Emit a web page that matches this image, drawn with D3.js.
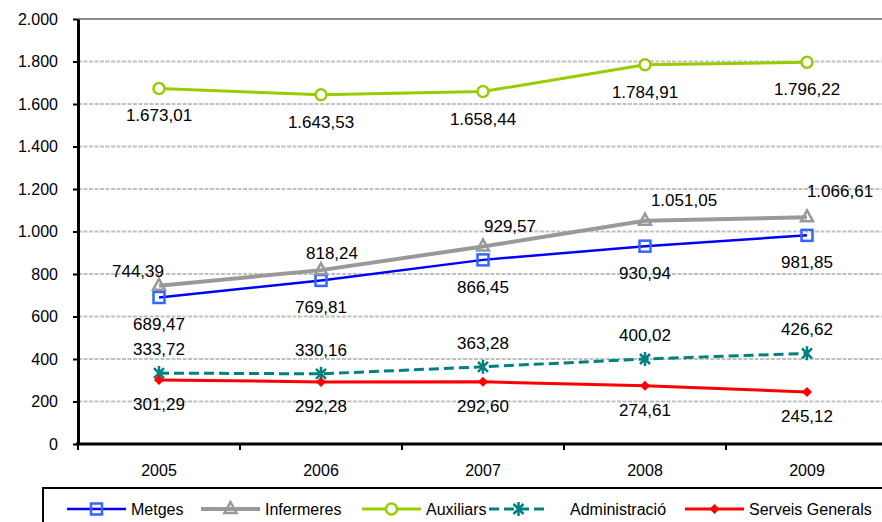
<!DOCTYPE html>
<html>
<head>
<meta charset="utf-8">
<script src="https://cdn.jsdelivr.net/npm/d3@7"></script>
<style>
  body { margin: 0; background: #fff; }
  svg { display: block; font-family: "Liberation Sans", Arial, sans-serif; }
</style>
</head>
<body>
<div class="container"></div>
<script>
// data
var years = ["2005", "2006", "2007", "2008", "2009"];
var metges = [689.47, 769.81, 866.45, 930.94, 981.85];
var infermeres = [744.39, 818.24, 929.57, 1051.05, 1066.61];
var auxiliars = [1673.01, 1643.53, 1658.44, 1784.91, 1796.22];
var administracio = [333.72, 330.16, 363.28, 400.02, 426.62];
var serveisGenerals = [301.29, 292.28, 292.60, 274.61, 245.12];
var yTicks = [0, 200, 400, 600, 800, 1000, 1200, 1400, 1600, 1800, 2000];

var width = 882, height = 522;

var locale = d3.formatLocale({decimal: ",", thousands: ".", grouping: [3], currency: ["", "€"]});
var fmtVal = locale.format(",.2f");
var fmtTick = locale.format(",d");

var svg = d3.select(".container").append("svg")
    .attr("width", width)
    .attr("height", height);

var x = d3.scaleBand().domain(years).range([78, 888]);
var y = d3.scaleLinear().domain([0, 2000]).range([444, 19]);
function cx(d) { return x(d) + x.bandwidth() / 2; }

// gridlines
svg.append("g").selectAll("line")
    .data(yTicks.filter(function(t) { return t > 0; }))
    .enter().append("line")
    .attr("x1", 78).attr("x2", width)
    .attr("y1", function(d) { return y(d); })
    .attr("y2", function(d) { return y(d); })
    .attr("stroke", function(d) { return d == 2000 ? "#8c8c8c" : "#c0c0c0"; })
    .attr("stroke-width", 2)
    .attr("stroke-dasharray", function(d) { return d == 2000 ? null : "4,1.5"; });

// y axis
var yAxis = svg.append("g")
    .attr("transform", "translate(78,0)")
    .call(d3.axisLeft(y).tickValues(yTicks).tickFormat(fmtTick).tickSize(5).tickSizeOuter(0));
yAxis.select(".domain").attr("stroke", "#000").attr("stroke-width", 3);
yAxis.selectAll(".tick line").attr("stroke", "#000").attr("stroke-width", 2);
yAxis.selectAll(".tick text").attr("font-size", 16).attr("fill", "#000")
    .attr("font-family", "Liberation Sans, Arial, sans-serif").attr("x", -20);

// x axis
var xAxis = svg.append("g")
    .attr("transform", "translate(0,444)")
    .call(d3.axisBottom(x).tickSize(0).tickSizeOuter(0));
xAxis.select(".domain").remove();
xAxis.selectAll(".tick text").attr("font-size", 16).attr("fill", "#000")
    .attr("font-family", "Liberation Sans, Arial, sans-serif").attr("dy", 0).attr("y", 32);
svg.append("line")
    .attr("x1", 76).attr("x2", width)
    .attr("y1", 444).attr("y2", 444)
    .attr("stroke", "#000").attr("stroke-width", 3);
svg.append("g").selectAll("line")
    .data(years)
    .enter().append("line")
    .attr("x1", function(d) { return x(d); })
    .attr("x2", function(d) { return x(d); })
    .attr("y1", 444).attr("y2", 450)
    .attr("stroke", "#000").attr("stroke-width", 2);

// series definitions
var series = [
    {name: "Metges", values: metges, color: "#0000ff", marker: "#3366ff", width: 2.5, dash: null, sym: "square", labelDy: 27},
    {name: "Infermeres", values: infermeres, color: "#999999", marker: "#999999", width: 4, dash: null, sym: "triangle", labelDy: -18},
    {name: "Auxiliars", values: auxiliars, color: "#99cc00", marker: "#99cc00", width: 3, dash: null, sym: "circle", labelDy: 27},
    {name: "Administració", values: administracio, color: "#008080", marker: "#008080", width: 3, dash: "10,5", sym: "star", labelDy: -24},
    {name: "Serveis Generals", values: serveisGenerals, color: "#ff0000", marker: "#ff0000", width: 3, dash: null, sym: "diamond", labelDy: 24}
];
// hand-moved labels of Infermeres (dx, dy)
var infermeresLabelShift = [[-21, 3], [11, 1], [27, -2], [39, -3], [33, -8]];

function drawMarker(g, s) {
    if (s.sym == "square") {
        g.append("rect").attr("x", -5.5).attr("y", -5.5).attr("width", 11).attr("height", 11)
            .attr("fill", "none").attr("stroke", s.marker).attr("stroke-width", 2.5);
    } else if (s.sym == "triangle") {
        g.append("path").attr("d", "M0,-7L6,4L-6,4Z")
            .attr("fill", "none").attr("stroke", s.marker).attr("stroke-width", 2.5);
    } else if (s.sym == "circle") {
        g.append("circle").attr("r", 5.5)
            .attr("fill", "#fff").attr("stroke", s.marker).attr("stroke-width", 2.5);
    } else if (s.sym == "star") {
        g.append("path").attr("d", "M-5,-5L5,5M-5,5L5,-5M0,-7L0,7")
            .attr("fill", "none").attr("stroke", s.marker).attr("stroke-width", 2.5);
    } else if (s.sym == "diamond") {
        g.append("path").attr("d", "M0,-5L5,0L0,5L-5,0Z")
            .attr("fill", s.marker).attr("stroke", "none");
    }
}

var line = d3.line()
    .x(function(d, i) { return cx(years[i]); })
    .y(function(d) { return y(d); });

series.forEach(function(s) {
    svg.append("path")
        .datum(s.values)
        .attr("d", line)
        .attr("fill", "none")
        .attr("stroke", s.color)
        .attr("stroke-width", s.width)
        .attr("stroke-dasharray", s.dash);
});

series.forEach(function(s) {
    s.values.forEach(function(v, i) {
        var g = svg.append("g").attr("transform", "translate(" + cx(years[i]) + "," + y(v) + ")");
        drawMarker(g, s);
    });
});

// data labels
series.forEach(function(s) {
    svg.append("g").selectAll("text")
        .data(s.values)
        .enter().append("text")
        .attr("x", function(d, i) {
            var dx = s.name == "Infermeres" ? infermeresLabelShift[i][0] : 0;
            return cx(years[i]) + dx;
        })
        .attr("y", function(d, i) {
            var dy = s.name == "Infermeres" ? infermeresLabelShift[i][1] : 0;
            return y(d) + s.labelDy + dy + 6;
        })
        .attr("text-anchor", "middle")
        .attr("font-size", 17)
        .attr("fill", "#000")
        .text(function(d) { return fmtVal(d); });
});

// legend
var legendX = [67, 201, 362, 489, 685];
svg.append("rect")
    .attr("x", 43).attr("y", 488)
    .attr("width", 860).attr("height", 50)
    .attr("fill", "#fff").attr("stroke", "#000").attr("stroke-width", 2);

series.forEach(function(s, i) {
    var lx = legendX[i], ly = 509;
    svg.append("line")
        .attr("x1", lx).attr("x2", lx + 59)
        .attr("y1", ly).attr("y2", ly)
        .attr("stroke", s.color).attr("stroke-width", s.width)
        .attr("stroke-dasharray", s.dash);
    var g = svg.append("g").attr("transform", "translate(" + (lx + 29.5) + "," + ly + ")");
    drawMarker(g, s);
    svg.append("text")
        .attr("x", lx + 64 + (s.dash ? 17 : 0))
        .attr("y", ly + 6)
        .attr("font-size", 16)
        .attr("fill", "#000")
        .text(s.name);
});
</script>
</body>
</html>
